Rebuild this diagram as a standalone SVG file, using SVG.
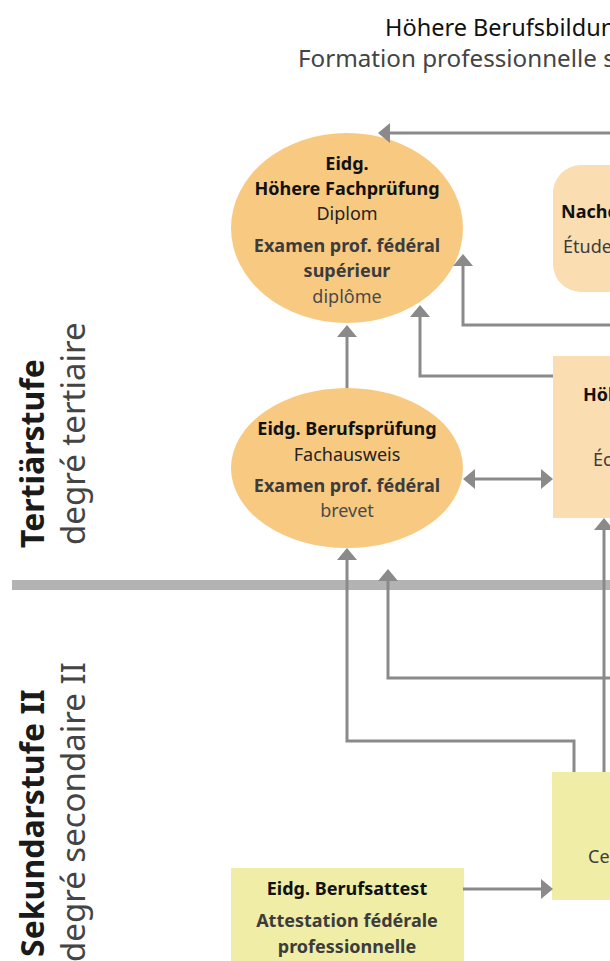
<svg xmlns="http://www.w3.org/2000/svg" width="610" height="961" viewBox="0 0 610 961">
<defs>
<style>
text{font-family:"Noto Sans","DejaVu Sans",sans-serif}
.t1{font-size:23.5px;fill:#111}
.t2{font-size:24.2px;fill:#444}
.sb{font-size:32px;font-weight:bold;fill:#1a1a1a}
.sr{font-size:33px;fill:#444}
.b{font-size:18px;font-weight:bold;fill:#111;text-anchor:middle}
.r{font-size:18px;fill:#222;text-anchor:middle}
.bg{font-size:18px;font-weight:bold;fill:#3c3c3c;text-anchor:middle}
.rg{font-size:18px;fill:#4a4a4a;text-anchor:middle}
.bl{font-size:18px;font-weight:bold;fill:#111}
.rl{font-size:18px;fill:#3c3c3c}
.ell{fill:#F8C981}
.lo{fill:#FADDB1}
.ye{fill:#EFEDA6}
.con path{fill:none;stroke:#8A8A8A;stroke-width:3}
</style>
<marker id="ah" viewBox="0 0 12 20" refX="4" refY="10" markerWidth="12" markerHeight="20" markerUnits="userSpaceOnUse" orient="auto-start-reverse">
<path d="M0,0 L12,10 L0,20 z" fill="#8A8A8A"/>
</marker>
</defs>
<rect width="610" height="961" fill="#fff"/>

<g id="title">
<text class="t1" x="385" y="36">Höhere Berufsbildung</text>
<text class="t2" x="298" y="67">Formation professionnelle supérieure</text>
</g>

<g id="levels">
<rect x="12" y="580" width="598" height="10" fill="#B3B3B3"/>
<text class="sb" transform="translate(44,548) rotate(-90)">Tertiärstufe</text>
<text class="sr" transform="translate(85,545) rotate(-90)">degré tertiaire</text>
<text class="sb" transform="translate(44,957) rotate(-90)">Sekundarstufe II</text>
<text class="sr" transform="translate(85,962) rotate(-90)">degré secondaire II</text>
</g>

<g id="hfp">
<ellipse class="ell" cx="347" cy="228" rx="116" ry="95"/>
<text class="b" x="347" y="170">Eidg.</text>
<text class="b" x="347" y="195">Höhere Fachprüfung</text>
<text class="r" x="347" y="220">Diplom</text>
<text class="bg" x="347" y="252">Examen prof. fédéral</text>
<text class="bg" x="347" y="277">supérieur</text>
<text class="rg" x="347" y="303">diplôme</text>
</g>

<g id="bp">
<ellipse class="ell" cx="347" cy="468" rx="116" ry="80"/>
<text class="b" x="347" y="435">Eidg. Berufsprüfung</text>
<text class="r" x="347" y="461">Fachausweis</text>
<text class="bg" x="347" y="492">Examen prof. fédéral</text>
<text class="rg" x="347" y="517">brevet</text>
</g>

<g id="nds">
<rect class="lo" x="553" y="165" width="120" height="127" rx="28"/>
<text class="bl" x="561" y="218">Nachdiplomstudien</text>
<text class="rl" x="563" y="253">Études postdiplômes</text>
</g>

<g id="hf">
<rect class="lo" x="553" y="356" width="100" height="162"/>
<text class="bl" x="583" y="401">Höhere Fachschulen</text>
<text class="rl" x="593" y="466">Écoles supérieures</text>
</g>

<g id="efz">
<rect class="ye" x="552" y="772" width="100" height="128"/>
<text class="rl" x="588" y="863">Certificat fédéral de capacité</text>
</g>

<g id="eba">
<rect class="ye" x="231" y="868" width="233" height="100"/>
<text class="b" x="347" y="895">Eidg. Berufsattest</text>
<text class="bg" x="347" y="927">Attestation fédérale</text>
<text class="bg" x="347" y="953">professionnelle</text>
</g>

<g id="connectors" class="con">
<path d="M610,133 H386" marker-end="url(#ah)"/>
<path d="M347,388 V333" marker-end="url(#ah)"/>
<path d="M610,325 H463 V262" marker-end="url(#ah)"/>
<path d="M553,376 H420 V313" marker-end="url(#ah)"/>
<path d="M471,479 H545" marker-start="url(#ah)" marker-end="url(#ah)"/>
<path d="M604,772 V526" marker-end="url(#ah)"/>
<path d="M574,772 V741 H347 V556" marker-end="url(#ah)"/>
<path d="M610,678 H388 V577" marker-end="url(#ah)"/>
<path d="M463,889 H545" marker-end="url(#ah)"/>
</g>
</svg>
